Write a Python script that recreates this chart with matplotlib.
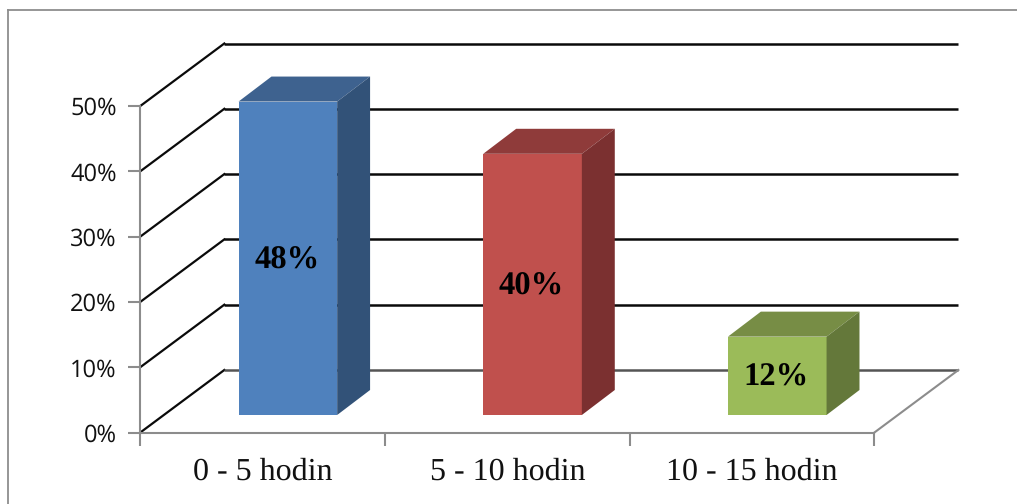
import numpy as np
import matplotlib
matplotlib.use("Agg")
import matplotlib.pyplot as plt

plt.rcParams["text.hinting"] = "no_hinting"

categories = ["0 - 5 hodin", "5 - 10 hodin", "10 - 15 hodin"]
values = [48, 40, 12]
y_ticks = [0, 10, 20, 30, 40, 50]
front_colors = ["#4F81BD", "#C0504D", "#9BBB59"]
top_colors = ["#3E628F", "#8F3B3A", "#778D45"]
side_colors = ["#325278", "#7B3030", "#64783A"]

W, H = 1017, 504
x0_px, y0_px = 140.3, 432.5      # where the two axes meet
cat_px = 244.7                   # one category wide
pct_px = 6.53                    # one percent tall
# oblique depth of the floor, in data units
depth_x = 84.0 / cat_px
depth_y = 62.5 / pct_px
bar_w = 0.403
near_x, near_y = 0.30, 0.28      # bar front as a share of floor depth
bar_depth = 0.40

fig = plt.figure(figsize=(W / 100, H / 100), dpi=100)
ax = fig.add_axes([0, 0, 1, 1])
ax.set_xlim(-x0_px / cat_px, (W - x0_px) / cat_px)
ax.set_ylim(-(H - y0_px) / pct_px, y0_px / pct_px)
ax.patch.set_visible(False)

# outer chart border, only top and left reach into the canvas
ax.plot([7.5 / W, 7.5 / W], [0, 1 - 9.5 / H], transform=ax.transAxes, color="#8E8E8E", lw=1.3, zorder=0)
ax.plot([7.5 / W, 1], [1 - 9.5 / H, 1 - 9.5 / H], transform=ax.transAxes, color="#8E8E8E", lw=1.3, zorder=0)

# walls: side diagonals plus back lines
n_cats = len(categories)
for t in y_ticks:
    col = "#0A0A0A" if t > 0 else "#555555"
    ax.plot([0, depth_x], [t, t + depth_y], color="#0A0A0A", lw=1.6, zorder=1)
    ax.plot([depth_x, n_cats + depth_x], [t + depth_y, t + depth_y], color=col, lw=1.8, zorder=1,
            solid_capstyle="butt")
ax.plot([n_cats, n_cats + depth_x], [0, depth_y], color="#8C8C8C", lw=1.5, zorder=1)

# bars, drawn as three faces
for i, v in enumerate(values):
    xl = i + (1 - bar_w) / 2 + near_x * depth_x
    xr = xl + bar_w
    yb = near_y * depth_y
    yt = yb + v
    dx = bar_depth * depth_x * 0.98
    dy = bar_depth * depth_y
    ax.fill([xl, xr, xr, xl], [yb, yb, yt, yt], fc=front_colors[i], ec="none", zorder=3)
    ax.fill([xl, xr, xr + dx, xl + dx], [yt, yt, yt + dy, yt + dy], fc=top_colors[i], ec="none", zorder=3)
    ax.fill([xr, xr + dx, xr + dx, xr], [yb, yb + dy, yt + dy, yt], fc=side_colors[i], ec="none", zorder=3)
    ax.text(xl + bar_w / 2 - 0.004, yb + v / 2 - 0.3, "%d%%" % v, ha="center", va="center",
            family="Liberation Serif", fontweight="bold", fontsize=23.5, color="black", zorder=4)

# axes
for side in ["top", "right"]:
    ax.spines[side].set_visible(False)
for side in ["left", "bottom"]:
    ax.spines[side].set_position(("data", 0))
    ax.spines[side].set_color("#8C8C8C")
    ax.spines[side].set_linewidth(1.5)
    ax.spines[side].set_zorder(2)
ax.spines["left"].set_bounds(0, 50)
ax.spines["bottom"].set_bounds(0, n_cats)

ax.set_yticks(y_ticks)
ax.set_yticklabels(["%d%%" % t for t in y_ticks], family="Open Sans", fontsize=17, color="#111111")
ax.set_xticks(np.arange(n_cats + 1))
ax.set_xticklabels([])
ax.set_xticks(np.arange(n_cats) + 0.5, minor=True)
ax.set_xticklabels(categories, minor=True, family="Liberation Serif", fontsize=23, color="#111111")
ax.tick_params(axis="y", length=9, width=1.5, color="#8C8C8C", pad=8)
ax.tick_params(axis="x", which="major", length=9, width=1.5, color="#8C8C8C")
ax.tick_params(axis="x", which="minor", length=0, pad=18)

fig.savefig("out.png", dpi=100)
plt.close()
